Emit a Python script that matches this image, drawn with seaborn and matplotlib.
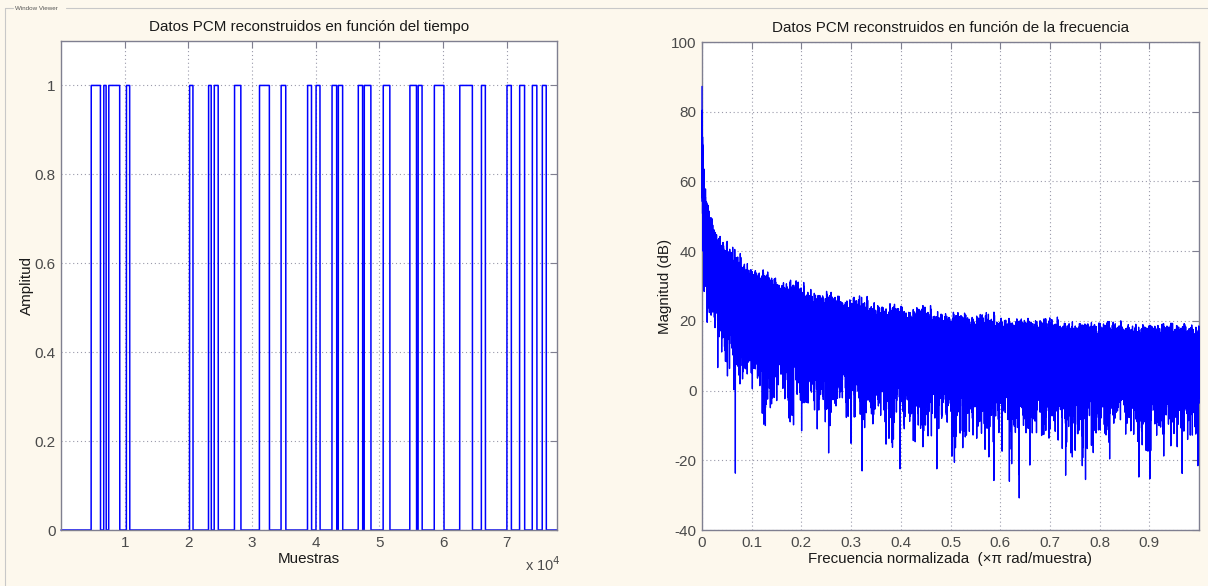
import numpy as np
import pandas as pd
import matplotlib
matplotlib.use("Agg")
import matplotlib.pyplot as plt
from matplotlib.lines import Line2D
import seaborn as sns

# Reconstructed PCM bit stream: total length and the sample indices where
# each high (1) run starts and ends.
n_samples = 77900
rise_samples = [4733, 6708, 7492, 10266, 20188, 23166, 24060, 27241, 31160,
                34561, 38715, 40047, 42555, 43542, 46677, 47618, 50596, 54781,
                56082, 58621, 62618, 66019, 70031, 72022, 74013, 75580]
fall_samples = [6191, 7085, 9216, 10784, 20721, 23590, 24687, 28245, 32727,
                35298, 39342, 40674, 43292, 44232, 47367, 48668, 51646, 55831,
                56708, 60141, 64608, 66646, 70721, 72806, 74734, 76207]

time_xticks = [1, 2, 3, 4, 5, 6, 7]
amp_yticks = [0, 0.2, 0.4, 0.6, 0.8, 1]
freq_xticks = [0, 0.1, 0.2, 0.3, 0.4, 0.5, 0.6, 0.7, 0.8, 0.9]
mag_yticks = [-40, -20, 0, 20, 40, 60, 80, 100]

# --- build the signal and its spectrum -------------------------------------
signal = np.zeros(n_samples)
for r, f in zip(rise_samples, fall_samples):
    signal[r:f] = 1.0

spectrum = np.fft.fft(signal)
half = n_samples // 2
mag_db = 20 * np.log10(np.abs(spectrum[:half]) + 1e-12)
freq_norm = np.arange(half) / half

df_time = pd.DataFrame({"muestra": np.arange(n_samples), "amplitud": signal})
df_freq = pd.DataFrame({"frecuencia": freq_norm, "magnitud": mag_db})

# --- styling -----------------------------------------------------------------
sns.set_style("white")
plt.rcParams["font.family"] = ["Liberation Sans", "DejaVu Sans"]

BG = "#fdf8ed"
FRAME = "#7f7f90"
TICKTXT = "#4a4a4a"
BLUE = "#0000ff"
LABEL_FS = 10.9

fig = plt.figure(figsize=(12.08, 5.86), dpi=100, facecolor=BG)
W, H = 1208, 586


def box(l, t, r, b):
    return [l / W, 1 - b / H, (r - l) / W, (b - t) / H]


ax1 = fig.add_axes(box(61, 41, 557, 530))
ax2 = fig.add_axes(box(702, 42, 1199, 530))

# group-box frame around the two plots
ytop = 1 - 8 / H
fig.add_artist(Line2D([5 / W, 13 / W], [ytop, ytop], color="#c8c8c8", lw=0.8))
fig.add_artist(Line2D([66 / W, 1.0], [ytop, ytop], color="#c8c8c8", lw=0.8))
fig.add_artist(Line2D([5 / W, 5 / W], [0, ytop], color="#c8c8c8", lw=0.8))
fig.text(15 / W, ytop, "Window Viewer", fontsize=4.5, color="#555555",
         va="center", ha="left")


def style_axes(ax):
    ax.set_facecolor("white")
    for s in ax.spines.values():
        s.set_color(FRAME)
        s.set_linewidth(1.0)
    ax.tick_params(direction="in", length=5, width=0.8, color=FRAME,
                   labelsize=11, labelcolor=TICKTXT, top=True, right=True,
                   pad=4)
    ax.grid(True, color="#9a9aaa", linestyle=(0, (1, 2.5)), linewidth=0.8)
    ax.set_axisbelow(True)


# --- time domain ---------------------------------------------------------------
sns.lineplot(data=df_time, x="muestra", y="amplitud", ax=ax1, color=BLUE,
             lw=1.1, estimator=None, errorbar=None, clip_on=False)
ax1.set_xlim(0, n_samples)
ax1.set_ylim(0, 1.1)
ax1.set_xticks([t * 1e4 for t in time_xticks])
ax1.set_xticklabels([str(t) for t in time_xticks])
ax1.set_yticks(amp_yticks)
ax1.set_yticklabels([f"{v:g}" for v in amp_yticks])
style_axes(ax1)
ax1.set_title("Datos PCM reconstruidos en función del tiempo",
              fontsize=LABEL_FS, color="#1a1a1a", pad=7)
ax1.set_xlabel("Muestras", fontsize=LABEL_FS, color="#1a1a1a", labelpad=2)
ax1.set_ylabel("Amplitud", fontsize=LABEL_FS, color="#1a1a1a", labelpad=0)
fig.text(525 / W, 1 - 565 / H, r"x 10$^4$", fontsize=10.5, color=TICKTXT,
         ha="left", va="center")

# --- frequency domain ----------------------------------------------------------
sns.lineplot(data=df_freq, x="frecuencia", y="magnitud", ax=ax2, color=BLUE,
             lw=0.95, estimator=None, errorbar=None, sort=False,
             clip_on=False, zorder=3)
ax2.set_xlim(0, 1)
ax2.set_ylim(-40, 100)
ax2.set_xticks(freq_xticks)
ax2.set_xticklabels([f"{v:g}" for v in freq_xticks])
ax2.set_yticks(mag_yticks)
ax2.set_yticklabels([f"{v:g}" for v in mag_yticks])
style_axes(ax2)
ax2.set_title("Datos PCM reconstruidos en función de la frecuencia",
              fontsize=LABEL_FS, color="#1a1a1a", pad=7)
ax2.set_xlabel("Frecuencia normalizada  (×π rad/muestra)", fontsize=LABEL_FS,
               color="#1a1a1a", labelpad=2)
ax2.set_ylabel("Magnitud (dB)", fontsize=LABEL_FS, color="#1a1a1a",
               labelpad=-1)

fig.savefig("out.png", dpi=100, facecolor=BG)
